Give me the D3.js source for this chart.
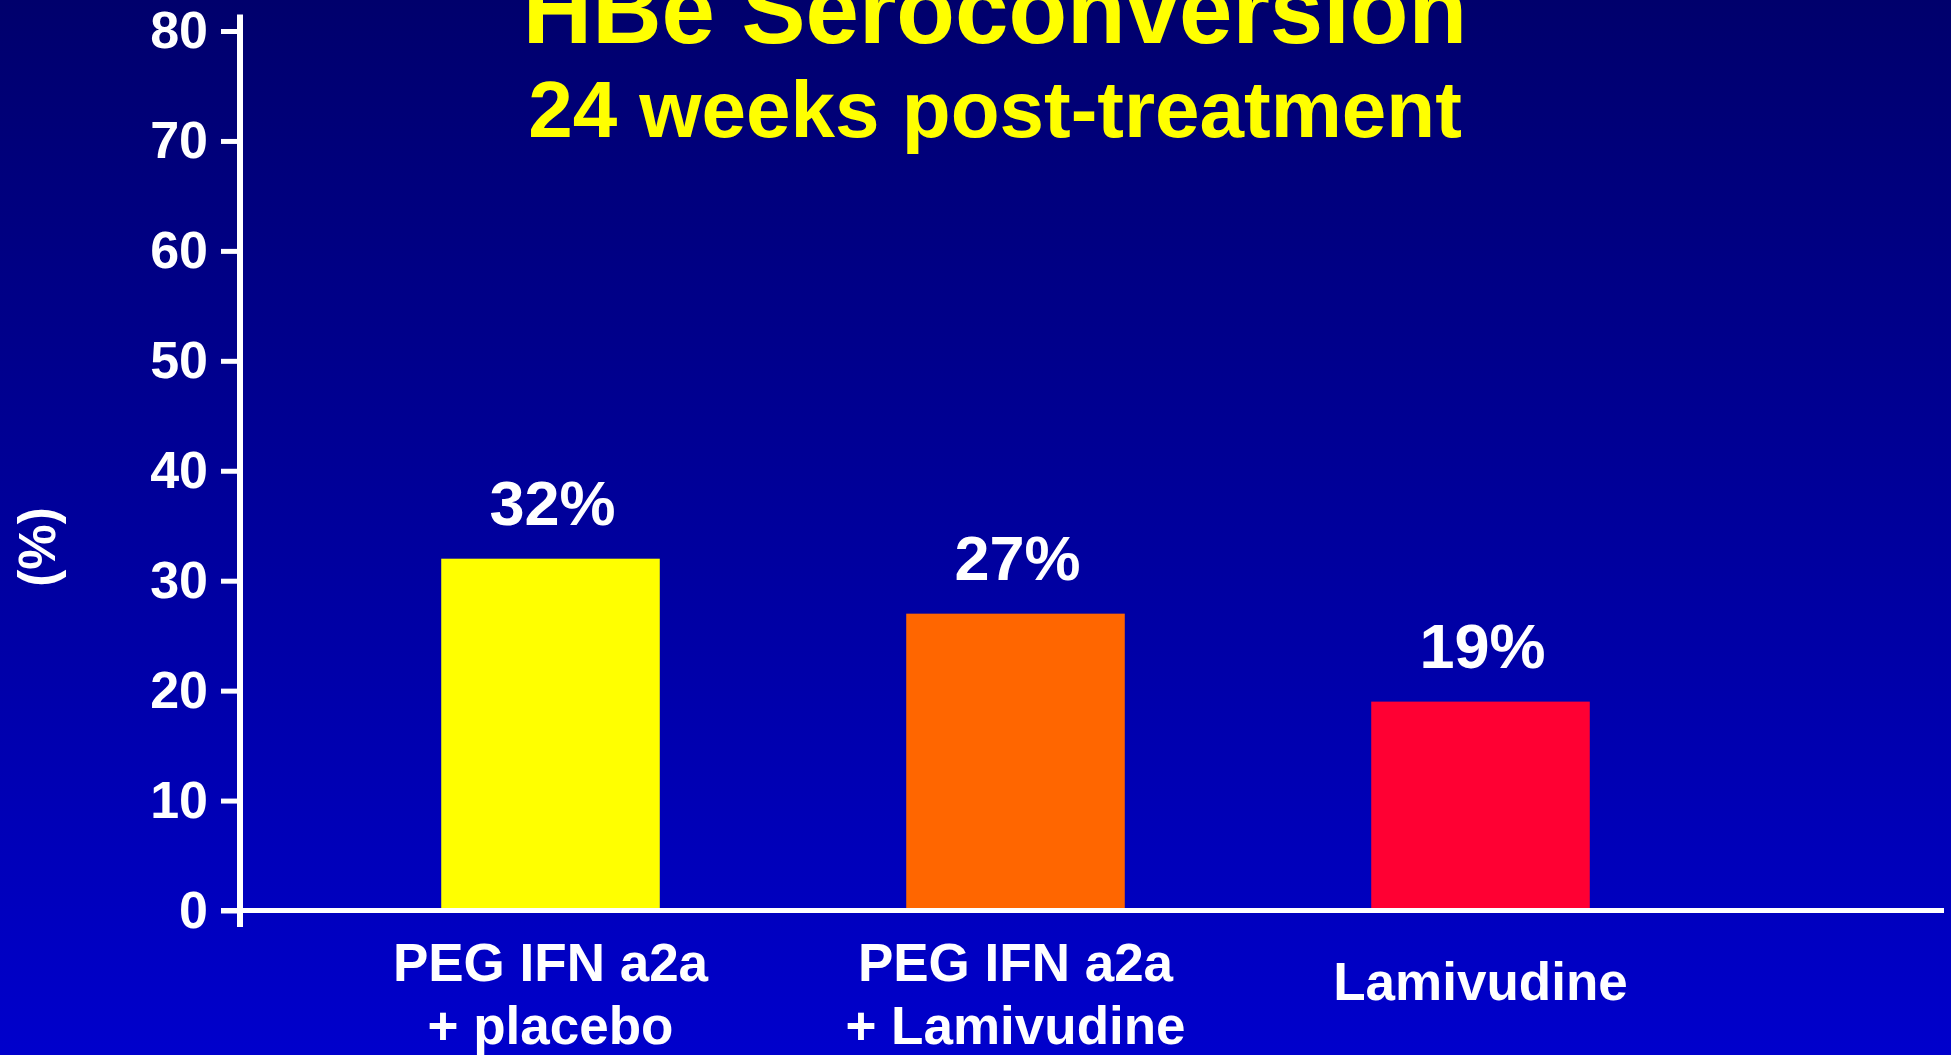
<!DOCTYPE html>
<html>
<head>
<meta charset="utf-8">
<script src="https://cdn.jsdelivr.net/npm/d3@7"></script>
<style>
    html, body { margin: 0; padding: 0; overflow: hidden; }
    body { width: 1951px; height: 1055px; }
    text { font-family: "Liberation Sans", Arial, sans-serif; font-weight: bold; }
</style>
</head>
<body>
<div id="chart"></div>
<script>
// data
const categories = ["PEG IFN a2a|+ placebo", "PEG IFN a2a|+ Lamivudine", "Lamivudine"];
const seroconversion = [32, 27, 19];
const valueLabels = ["32%", "27%", "19%"];
const barColors = ["#ffff00", "#ff6600", "#ff0033"];
const yTicks = [0, 10, 20, 30, 40, 50, 60, 70, 80];
const titleLines = ["HBe Seroconversion", "24 weeks post-treatment"];
const yLabel = "(%)";

const WIDTH = 1951;
const HEIGHT = 1055;
const AXIS_X = 240;

let svg = d3.select("#chart")
    .append("svg")
    .attr("width", WIDTH)
    .attr("height", HEIGHT);

// background gradient, dark navy at top to brighter blue at bottom
let grad = svg.append("defs")
    .append("linearGradient")
    .attr("id", "bg")
    .attr("x1", 0).attr("y1", 0)
    .attr("x2", 0).attr("y2", 1);
grad.append("stop").attr("offset", "0%").attr("stop-color", "#00006c");
grad.append("stop").attr("offset", "100%").attr("stop-color", "#0000cc");

svg.append("rect")
    .attr("width", WIDTH)
    .attr("height", HEIGHT)
    .attr("fill", "url(#bg)");

let y = d3.scaleLinear()
    .domain([0, 80])
    .range([910.5, 31]);

let x = d3.scaleBand()
    .domain(categories)
    .range([318, 1713])
    .paddingInner(0.53)
    .paddingOuter(0.265);

let data = categories.map(function (c, i) {
    return { group: c, value: seroconversion[i], label: valueLabels[i], color: barColors[i] };
});

// bars
svg.selectAll("rect.bar")
    .data(data)
    .enter()
    .append("rect")
    .attr("class", "bar")
    .attr("x", function (d) { return x(d.group); })
    .attr("y", function (d) { return y(d.value); })
    .attr("width", x.bandwidth())
    .attr("height", function (d) { return y(0) - y(d.value); })
    .attr("fill", function (d) { return d.color });

// value labels above bars
svg.selectAll("text.value")
    .data(data)
    .enter()
    .append("text")
    .attr("class", "value")
    .attr("x", function (d) { return x(d.group) + x.bandwidth() / 2 + 2; })
    .attr("y", function (d) { return y(d.value) - 34; })
    .attr("text-anchor", "middle")
    .attr("fill", "#ffffff")
    .attr("font-size", 63)
    .text(function (d) { return d.label; });

// y axis
let yAxis = svg.append("g")
    .attr("transform", "translate(" + AXIS_X + ",0)")
    .call(d3.axisLeft(y).tickValues(yTicks).tickSize(19).tickPadding(13));
yAxis.select(".domain").remove();
yAxis.selectAll(".tick line")
    .attr("stroke", "#ffffff")
    .attr("stroke-width", 5);
yAxis.selectAll(".tick text")
    .attr("fill", "#ffffff")
    .attr("font-size", 52)
    .attr("font-family", "Liberation Sans, Arial, sans-serif");

svg.append("line")
    .attr("x1", AXIS_X).attr("x2", AXIS_X)
    .attr("y1", y(81.5)).attr("y2", y(-1.5))
    .attr("stroke", "#ffffff")
    .attr("stroke-width", 6);

// x axis line runs to the right edge
svg.append("line")
    .attr("x1", AXIS_X - 19).attr("x2", WIDTH - 7)
    .attr("y1", y(0)).attr("y2", y(0))
    .attr("stroke", "#ffffff")
    .attr("stroke-width", 5);

// category labels, split on '|'
let catLabels = svg.selectAll("text.cat")
    .data(data)
    .enter()
    .append("text")
    .attr("class", "cat")
    .attr("text-anchor", "middle")
    .attr("fill", "#ffffff")
    .attr("font-size", 53)
    .attr("x", function (d) { return x(d.group) + x.bandwidth() / 2; })
    .attr("y", function (d) { return d.group.indexOf("|") < 0 ? 1000 : 981; });

catLabels.each(function (d) {
    let lines = d.group.split("|");
    let t = d3.select(this);
    lines.forEach(function (line, i) {
        t.append("tspan")
            .attr("x", x(d.group) + x.bandwidth() / 2)
            .attr("dy", i === 0 ? 0 : 63)
            .text(line);
    });
});

// y label
svg.append("text")
    .attr("transform", "translate(55,547) rotate(-90)")
    .attr("text-anchor", "middle")
    .attr("fill", "#ffffff")
    .attr("font-size", 51)
    .text(yLabel);

// title
svg.append("text")
    .attr("x", 995)
    .attr("y", 43)
    .attr("text-anchor", "middle")
    .attr("fill", "#ffff00")
    .attr("font-size", 96)
    .text(titleLines[0]);
svg.append("text")
    .attr("x", 995)
    .attr("y", 137)
    .attr("text-anchor", "middle")
    .attr("fill", "#ffff00")
    .attr("font-size", 80)
    .text(titleLines[1]);
</script>
</body>
</html>
